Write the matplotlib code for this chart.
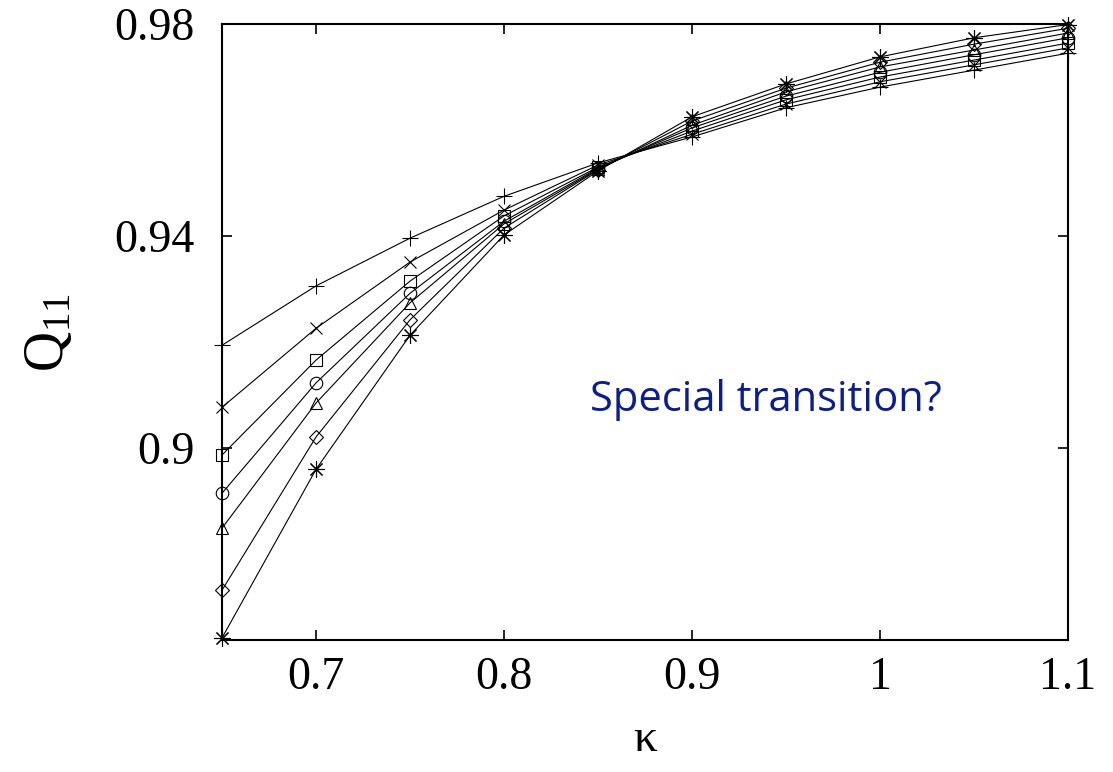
import matplotlib
matplotlib.use("Agg")
import matplotlib.pyplot as plt

plt.rcParams['font.family'] = ['Liberation Serif', 'DejaVu Serif']
plt.rcParams['mathtext.fontset'] = 'custom'
plt.rcParams['mathtext.rm'] = 'Liberation Serif'
plt.rcParams['mathtext.it'] = 'Liberation Serif:italic'

kappa = [0.65, 0.7, 0.75, 0.8, 0.85, 0.9, 0.95, 1.0, 1.05, 1.1]

q_plus = [0.9194, 0.9306, 0.9396, 0.9475, 0.9538, 0.9587, 0.9642, 0.9681, 0.9713, 0.9745]
q_cross = [0.9077, 0.9226, 0.9351, 0.9449, 0.9534, 0.9592, 0.9649, 0.9691, 0.9723, 0.9755]
q_square = [0.8987, 0.9166, 0.9315, 0.9438, 0.9530, 0.9598, 0.9657, 0.9700, 0.9732, 0.9764]
q_circle = [0.8915, 0.9123, 0.9292, 0.9428, 0.9528, 0.9604, 0.9664, 0.9709, 0.9742, 0.9774]
q_triangle = [0.8849, 0.9085, 0.9274, 0.9423, 0.9526, 0.9609, 0.9672, 0.9719, 0.9751, 0.9783]
q_diamond = [0.8732, 0.9021, 0.9242, 0.9415, 0.9525, 0.9617, 0.9679, 0.9728, 0.9762, 0.9792]
q_star = [0.8642, 0.8960, 0.9213, 0.9402, 0.9523, 0.9625, 0.9687, 0.9738, 0.9774, 0.9799]

x_ticks = [0.7, 0.8, 0.9, 1.0, 1.1]
x_labels = ['0.7', '0.8', '0.9', '1', '1.1']
y_ticks = [0.9, 0.94, 0.98]
y_labels = ['0.9', '0.94', '0.98']

series = [
    (q_plus, '+', 11),
    (q_cross, 'x', 9),
    (q_square, 's', 9),
    (q_circle, 'o', 9),
    (q_triangle, '^', 9),
    (q_diamond, 'D', 7),
    (q_star, (8, 2, 0), 12),
]

fig = plt.figure(figsize=(11.13, 7.72), dpi=100)
ax = fig.add_axes([0.1995, 0.171, 0.7601, 0.7979])

for vals, mk, ms in series:
    ax.plot(kappa, vals, color='black', lw=0.8, marker=mk, ms=ms,
            mfc='none', mec='black', mew=0.8, clip_on=False)

ax.set_xlim(0.65, 1.1)
ax.set_ylim(0.8638, 0.98)
ax.set_xticks(x_ticks)
ax.set_xticklabels(x_labels)
ax.set_yticks(y_ticks)
ax.set_yticklabels(y_labels)
ax.tick_params(direction='in', length=7, width=1.2, top=True, right=True)
ax.tick_params(axis='x', pad=12, labelsize=33)
ax.tick_params(axis='y', pad=20, labelsize=33)
for sp in ax.spines.values():
    sp.set_linewidth(1.5)

ax.set_ylabel(r'$\mathrm{Q}_{11}$', fontsize=40, labelpad=28)
ax.set_xlabel('κ', fontsize=34, labelpad=14)

fig.text(0.530, 0.482, 'Special transition?', fontsize=30, color='#0b1e91',
         family='Open Sans', va='center', ha='left')

fig.savefig('out.png', dpi=100)
